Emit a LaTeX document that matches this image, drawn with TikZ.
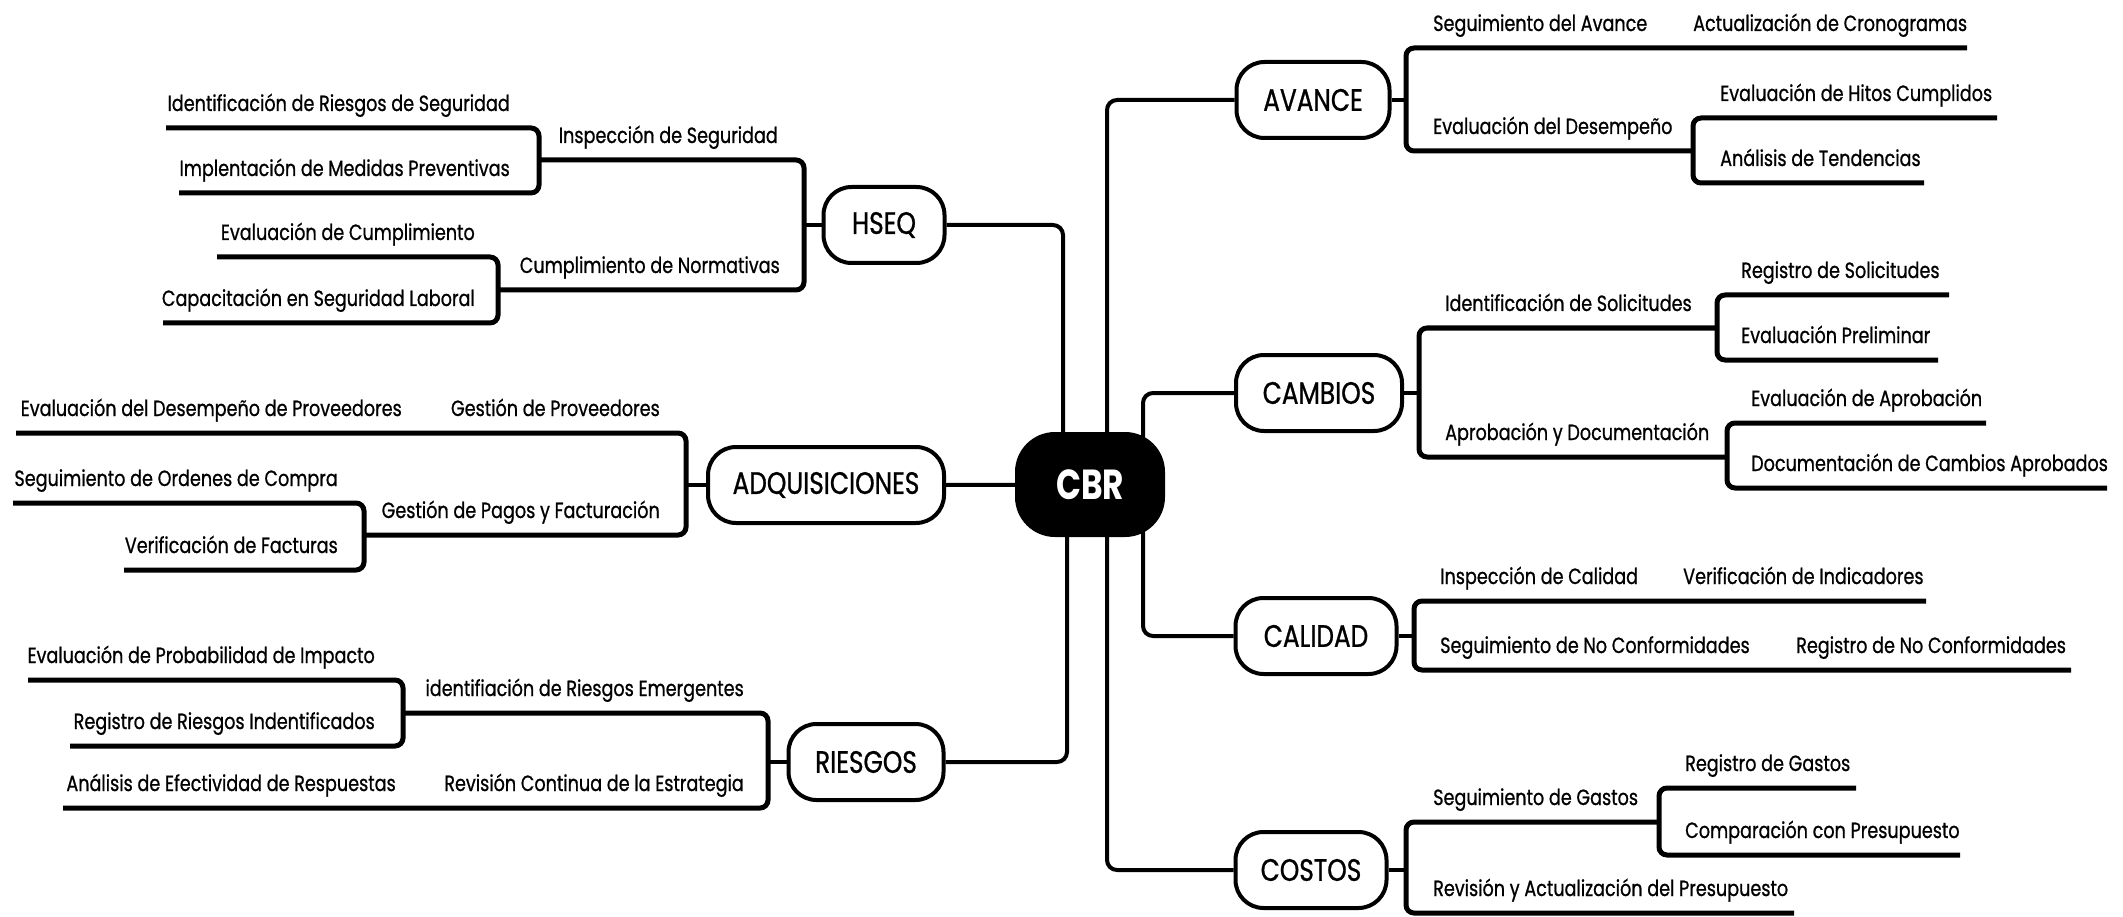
\documentclass[tikz,border=0pt]{standalone}
\usepackage{fontspec}
\setmainfont[FakeStretch=0.78]{Poppins}
\newfontfamily\lblfont[FakeStretch=0.8,FakeBold=0.8]{Poppins}
\usetikzlibrary{backgrounds}
\begin{document}
\begin{tikzpicture}[x=1pt,y=-1pt,
  cat/.style={draw=black, line width=4pt, rounded corners=28pt, fill=white, minimum height=76pt, inner sep=0pt, font=\lblfont\fontsize{31}{36}\selectfont},
  hub/.style={fill=black, rounded corners=40pt, minimum width=150pt, minimum height=105pt, inner sep=0pt, text=white, font=\bfseries\fontsize{42}{48}\selectfont},
  lblE/.style={anchor=base east, inner sep=0pt, font=\lblfont\fontsize{22}{26}\selectfont},
  lblW/.style={anchor=base west, inner sep=0pt, font=\lblfont\fontsize{22}{26}\selectfont},
  br/.style={line width=5pt, rounded corners=8pt},
  con/.style={line width=4pt, rounded corners=10pt}]
\useasboundingbox (0,0) rectangle (2123,917);

% central node and categories
\node[hub] (cbr) at (1090,484.5) {CBR};
\node[cat, minimum width=121pt] (hseq) at (884,225) {HSEQ};
\node[cat, minimum width=236pt] (adq) at (826,485) {ADQUISICIONES};
\node[cat, minimum width=155pt] (rie) at (866,762) {RIESGOS};
\node[cat, minimum width=153pt] (ava) at (1313,100) {AVANCE};
\node[cat, minimum width=166pt] (cam) at (1319,393) {CAMBIOS};
\node[cat, minimum width=161pt] (cal) at (1316,636) {CALIDAD};
\node[cat, minimum width=151pt] (cos) at (1311,870) {COSTOS};

\begin{scope}[on background layer]
\fill[white] (0,0) rectangle (2123,917);
\draw[con] (hseq.east) -| ([xshift=-27pt]cbr.center);
\draw[con] (adq.east) -- (cbr.center);
\draw[con] (rie.east) -| ([xshift=-23pt]cbr.center);
\draw[con] (ava.west) -| ([xshift=17pt]cbr.center);
\draw[con] (cam.west) -| ([xshift=53pt]cbr.center);
\draw[con] (cal.west) -| ([xshift=53pt]cbr.center);
\draw[con] (cos.west) -| ([xshift=17pt]cbr.center);
\end{scope}

% ---------- HSEQ ----------
\coordinate (hb) at (804,225);
\draw[con] (hseq.west) -- (hb);
\draw[br] (539,160) -- (804,160) -- (804,290) -- (498,290);
\draw[br] (166,128) -- (539,128) -- (539,193) -- (179,193);
\draw[br] (217,257) -- (498,257) -- (498,323) -- (163,323);
\node[lblE] (h1) at (510,111) {Identificación de Riesgos de Seguridad};
\node[lblE] (h2) at (510,176) {Implentación de Medidas Preventivas};
\node[lblE] (h3) at (778,143) {Inspección de Seguridad};
\node[lblE] (h4) at (475,240) {Evaluación de Cumplimiento};
\node[lblE] (h5) at (475,306) {Capacitación en Seguridad Laboral};
\node[lblE] (h6) at (780,273) {Cumplimiento de Normativas};

% ---------- ADQUISICIONES ----------
\coordinate (ab) at (686,485);
\draw[con] (adq.west) -- (ab);
\draw[br] (16,433) -- (686,433) -- (686,535) -- (364,535);
\draw[br] (13,503) -- (364,503) -- (364,570) -- (124,570);
\node[lblE] (a1) at (402,416) {Evaluación del Desempeño de Proveedores};
\node[lblE] (a2) at (660,416) {Gestión de Proveedores};
\node[lblE] (a3) at (338,486) {Seguimiento de Ordenes de Compra};
\node[lblE] (a4) at (338,553) {Verificación de Facturas};
\node[lblE] (a5) at (660,518) {Gestión de Pagos y Facturación};

% ---------- RIESGOS ----------
\coordinate (rb) at (768,762);
\draw[con] (rie.west) -- (rb);
\draw[br] (403,713) -- (768,713) -- (768,808) -- (63,808);
\draw[br] (28,680) -- (403,680) -- (403,746) -- (70,746);
\node[lblE] (r1) at (375,663) {Evaluación de Probabilidad de Impacto};
\node[lblE] (r2) at (375,729) {Registro de Riesgos Indentificados};
\node[lblE] (r3) at (744,696) {identifiación de Riesgos Emergentes};
\node[lblE] (r4) at (396,791) {Análisis de Efectividad de Respuestas};
\node[lblE] (r5) at (744,791) {Revisión Continua de la Estrategia};

% ---------- AVANCE ----------
\coordinate (vb) at (1406,100);
\draw[con] (ava.east) -- (vb);
\draw[br] (1967,48) -- (1406,48) -- (1406,151) -- (1693,151);
\draw[br] (1997,118) -- (1693,118) -- (1693,183) -- (1924,183);
\node[lblW] (v1) at (1433,31) {Seguimiento del Avance};
\node[lblW] (v2) at (1693,31) {Actualización de Cronogramas};
\node[lblW] (v3) at (1433,134) {Evaluación del Desempeño};
\node[lblW] (v4) at (1720,101) {Evaluación de Hitos Cumplidos};
\node[lblW] (v5) at (1720,166) {Análisis de Tendencias};

% ---------- CAMBIOS ----------
\coordinate (mb) at (1419,393);
\draw[con] (cam.east) -- (mb);
\draw[br] (1717,328) -- (1419,328) -- (1419,457) -- (1727,457);
\draw[br] (1949,295) -- (1717,295) -- (1717,360) -- (1938,360);
\draw[br] (1986,423) -- (1727,423) -- (1727,488) -- (2107,488);
\node[lblW] (m1) at (1445,311) {Identificación de Solicitudes};
\node[lblW] (m2) at (1741,278) {Registro de Solicitudes};
\node[lblW] (m3) at (1741,343) {Evaluación Preliminar};
\node[lblW] (m4) at (1445,440) {Aprobación y Documentación};
\node[lblW] (m5) at (1751,406) {Evaluación de Aprobación};
\node[lblW] (m6) at (1751,471) {Documentación de Cambios Aprobados};

% ---------- CALIDAD ----------
\coordinate (lb) at (1414,636);
\draw[con] (cal.east) -- (lb);
\draw[br] (1926,601) -- (1414,601) -- (1414,670) -- (2071,670);
\node[lblW] (q1) at (1440,584) {Inspección de Calidad};
\node[lblW] (q2) at (1683,584) {Verificación de Indicadores};
\node[lblW] (q3) at (1440,653) {Seguimiento de No Conformidades};
\node[lblW] (q4) at (1796,653) {Registro de No Conformidades};

% ---------- COSTOS ----------
\coordinate (sb) at (1406,870);
\draw[con] (cos.east) -- (sb);
\draw[br] (1659,822) -- (1406,822) -- (1406,913) -- (1794,913);
\draw[br] (1856,788) -- (1659,788) -- (1659,855) -- (1960,855);
\node[lblW] (s1) at (1433,805) {Seguimiento de Gastos};
\node[lblW] (s2) at (1685,771) {Registro de Gastos};
\node[lblW] (s3) at (1685,838) {Comparación con Presupuesto};
\node[lblW] (s4) at (1433,896) {Revisión y Actualización del Presupuesto};
\end{tikzpicture}
\end{document}
